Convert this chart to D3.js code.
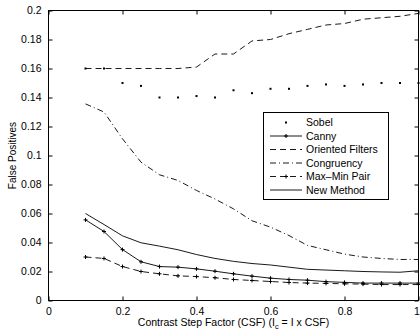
<!DOCTYPE html>
<html><head><meta charset="utf-8">
<script src="https://cdn.jsdelivr.net/npm/d3@7"></script>
<style>html,body{margin:0;padding:0;background:#fff;}svg{display:block;}</style>
</head><body>
<script>
const xValues = [0.1,0.15,0.2,0.25,0.3,0.35,0.4,0.45,0.5,0.55,0.6,0.65,0.7,0.75,0.8,0.85,0.9,0.95,1.0];
const sobel = [0.16,0.16,0.150,0.148,0.140,0.140,0.141,0.140,0.145,0.143,0.146,0.146,0.148,0.149,0.148,0.149,0.150,0.150,0.150];
const canny = [0.0556,0.0476,0.0351,0.0267,0.0234,0.023,0.0218,0.0202,0.0184,0.0168,0.0154,0.0145,0.014,0.013,0.0125,0.012,0.012,0.012,0.012];
const orientedFilters = [0.16,0.16,0.16,0.16,0.16,0.16,0.161,0.170,0.170,0.179,0.180,0.184,0.187,0.190,0.191,0.194,0.195,0.196,0.198];
const congruency = [0.1356,0.130,0.1115,0.0954,0.0867,0.0828,0.0759,0.070,0.0632,0.055,0.0506,0.0448,0.038,0.035,0.032,0.030,0.029,0.0283,0.0283];
const maxMinPair = [0.030,0.029,0.0234,0.020,0.0184,0.017,0.0165,0.0157,0.0145,0.0138,0.0131,0.0124,0.012,0.0118,0.0115,0.0113,0.011,0.011,0.011];
const newMethod = [0.060,0.0524,0.0446,0.0398,0.0375,0.035,0.0317,0.029,0.027,0.0255,0.0245,0.023,0.0215,0.021,0.0205,0.020,0.0197,0.0195,0.0205];
const seriesNames = ["Sobel","Canny","Oriented Filters","Congruency","Max\u2013Min Pair","New Method"];
const xTicks = [0,0.2,0.4,0.6,0.8,1];
const yTicks = [0,0.02,0.04,0.06,0.08,0.1,0.12,0.14,0.16,0.18,0.2];

const W = 420, H = 336;
const L = 48.5, R = 418.5, T = 10.5, B = 300.5;
const font = "'Liberation Sans', Arial, Helvetica, sans-serif";

const svg = d3.select("body").append("svg").attr("width", W).attr("height", H)
  .style("font-family", font);

const x = d3.scaleLinear().domain([0,1]).range([L,R]);
const y = d3.scaleLinear().domain([0,0.2]).range([B,T]);

// axes
const tick = 4;
const gB = svg.append("g").attr("transform", `translate(0,${B})`)
  .call(d3.axisBottom(x).tickValues(xTicks).tickSizeInner(-tick).tickSizeOuter(0).tickPadding(7).tickFormat(d3.format("~g")));
const gT = svg.append("g").attr("transform", `translate(0,${T})`)
  .call(d3.axisTop(x).tickValues(xTicks).tickSizeInner(-tick).tickSizeOuter(0).tickFormat(""));
const gL = svg.append("g").attr("transform", `translate(${L},0)`)
  .call(d3.axisLeft(y).tickValues(yTicks).tickSizeInner(-tick).tickSizeOuter(0).tickPadding(7).tickFormat(d3.format("~g")));
const gR = svg.append("g").attr("transform", `translate(${R},0)`)
  .call(d3.axisRight(y).tickValues(yTicks).tickSizeInner(-tick).tickSizeOuter(0).tickFormat(""));
[gB,gT,gL,gR].forEach(g => {
  g.select(".domain").remove();
  g.selectAll("line").attr("stroke","#000").attr("stroke-width",1);
  g.selectAll("text").attr("fill","#000").style("font-size","10.5px").style("font-family", font);
});
// keep the last x tick label inside the picture
gB.selectAll(".tick text").filter(d => d === 1).attr("x", -2);
svg.append("rect").attr("x",L).attr("y",T).attr("width",R-L).attr("height",B-T)
  .attr("fill","none").attr("stroke","#000").attr("stroke-width",1);

// axis labels
const xl = svg.append("text").attr("x",(L+R)/2).attr("y",326).attr("text-anchor","middle")
  .style("font-size","10.5px").attr("fill","#000");
xl.append("tspan").text("Contrast Step Factor (CSF) (I");
xl.append("tspan").text("c").attr("dy",3).style("font-size","7.5px");
xl.append("tspan").text(" = I x CSF)").attr("dy",-3);
svg.append("text").attr("transform",`translate(16,${(T+B)/2}) rotate(-90)`).attr("text-anchor","middle")
  .style("font-size","10px").attr("fill","#000").text("False Positives");

const styles = [
  {data: sobel, dash: null, line: false, marker: "dot"},
  {data: canny, dash: null, line: true, marker: "plus"},
  {data: orientedFilters, dash: "6,4", line: true, marker: null},
  {data: congruency, dash: "6,3,1,3", line: true, marker: null},
  {data: maxMinPair, dash: "6,4", line: true, marker: "plus"},
  {data: newMethod, dash: null, line: true, marker: null}
];

const lineGen = d3.line().x((d,i)=>x(xValues[i])).y(d=>y(d));
const plot = svg.append("g");
function drawMarker(g, type, cx, cy) {
  if (type === "dot") {
    g.append("rect").attr("x",cx-1).attr("y",cy-1).attr("width",2).attr("height",2).attr("fill","#000");
  } else if (type === "plus") {
    g.append("path").attr("d",`M${cx-2},${cy}H${cx+2}M${cx},${cy-2}V${cy+2}`).attr("stroke","#000").attr("stroke-width",1).attr("fill","none");
  }
}
styles.forEach(s => {
  if (s.line) {
    plot.append("path").datum(s.data).attr("d", lineGen).attr("fill","none")
      .attr("stroke","#000").attr("stroke-width",0.9)
      .attr("stroke-dasharray", s.dash);
  }
  if (s.marker) {
    s.data.forEach((d,i) => drawMarker(plot, s.marker, x(xValues[i]), y(d)));
  }
});

// legend
const lg = svg.append("g");
const lx0 = 263.5, ly0 = 112.5, lw = 125, lh = 87;
lg.append("rect").attr("x",lx0).attr("y",ly0).attr("width",lw).attr("height",lh)
  .attr("fill","#fff").attr("stroke","#000").attr("stroke-width",1);
seriesNames.forEach((name,i) => {
  const s = styles[i];
  const cy = ly0 + 10 + i*13.5;
  if (s.line) {
    lg.append("line").attr("x1",270).attr("x2",302).attr("y1",cy).attr("y2",cy)
      .attr("stroke","#000").attr("stroke-width",0.9).attr("stroke-dasharray", s.dash);
  }
  if (s.marker) drawMarker(lg, s.marker, 286, cy);
  lg.append("text").attr("x",306).attr("y",cy).attr("dy","0.35em")
    .style("font-size","10.5px").attr("fill","#000").text(name);
});
</script>
</body></html>
